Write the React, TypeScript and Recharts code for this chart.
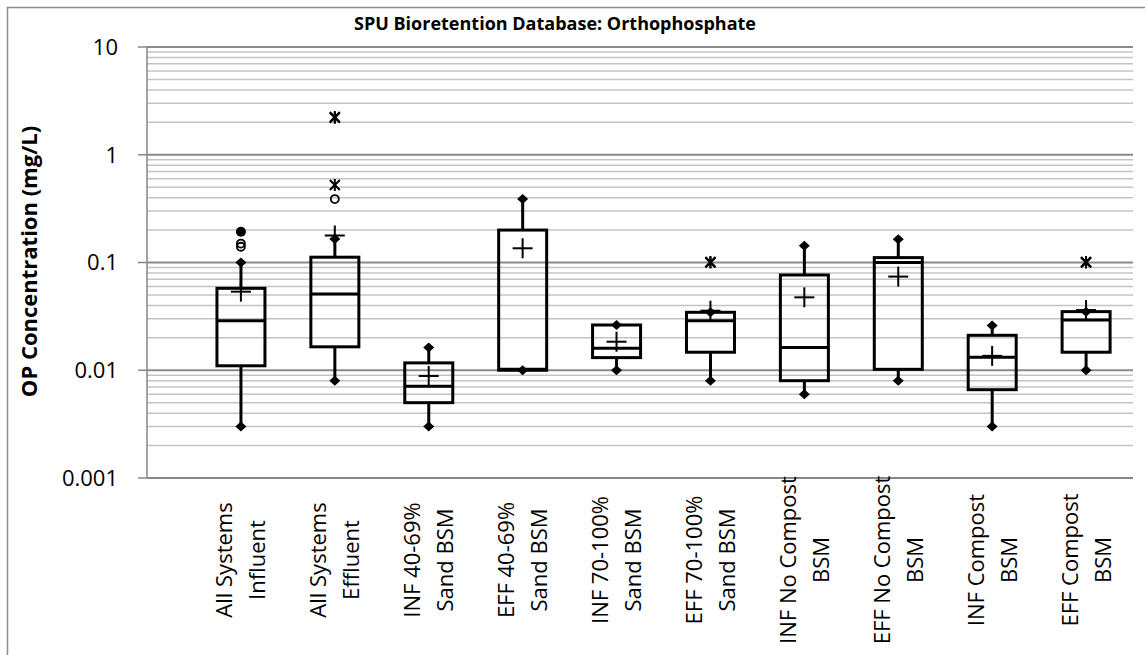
import React from "react";
import { Bar, CartesianGrid, ComposedChart, Scatter, XAxis, YAxis } from "recharts";

const categories = [
  "All Systems\nInfluent",
  "All Systems\nEffluent",
  "INF 40-69%\nSand BSM",
  "EFF 40-69%\nSand BSM",
  "INF 70-100%\nSand BSM",
  "EFF 70-100%\nSand BSM",
  "INF No Compost\nBSM",
  "EFF No Compost\nBSM",
  "INF Compost\nBSM",
  "EFF Compost\nBSM",
];

// mg/L
const minValues = [0.003, 0.008, 0.003, 0.01, 0.01, 0.008, 0.006, 0.008, 0.003, 0.01];
const q1Values = [0.011, 0.0165, 0.005, 0.01, 0.0131, 0.0147, 0.008, 0.0102, 0.0066, 0.0147];
const medianValues = [0.0288, 0.051, 0.0071, 0.0102, 0.016, 0.0288, 0.0163, 0.1, 0.0132, 0.0293];
const q3Values = [0.0576, 0.112, 0.0117, 0.2, 0.0263, 0.0345, 0.0766, 0.111, 0.0211, 0.035];
const maxValues = [0.1, 0.165, 0.0163, 0.388, 0.0263, 0.0345, 0.143, 0.164, 0.026, 0.035];
const meanValues = [0.0536, 0.178, 0.00885, 0.1355, 0.0184, 0.0357, 0.0475, 0.074, 0.0136, 0.0362];

// [category index, value]
const openCircleOutliers: [number, number][] = [[0, 0.15], [0, 0.14], [1, 0.388]];
const filledCircleOutliers: [number, number][] = [[0, 0.193]];
const starOutliers: [number, number][] = [[1, 0.524], [1, 2.2], [1, 2.24], [5, 0.1], [5, 0.101], [9, 0.1], [9, 0.101]];

const majorTicks = [0.001, 0.01, 0.1, 1, 10];
const minorTicks = [
  0.002, 0.003, 0.004, 0.005, 0.006, 0.007, 0.008, 0.009,
  0.02, 0.03, 0.04, 0.05, 0.06, 0.07, 0.08, 0.09,
  0.2, 0.3, 0.4, 0.5, 0.6, 0.7, 0.8, 0.9,
  2, 3, 4, 5, 6, 7, 8, 9,
];
const gridTicks = [...minorTicks, ...majorTicks];
const catTicks = categories.map((_, i) => i + 1);

const data = categories.map((name, i) => ({
  pos: i + 1,
  name,
  box: [q1Values[i], q3Values[i]],
  lowWhisker: [minValues[i], q1Values[i]],
  highWhisker: [q3Values[i], maxValues[i]],
  min: minValues[i],
  max: maxValues[i],
  median: medianValues[i],
  mean: meanValues[i],
}));

const toPoints = (list: [number, number][]) => list.map(([c, v]) => ({ pos: c + 1, value: v }));

const INK = "#000";
const AXIS = "#868686";
const BOX_W = 48;

const BoxShape = (p: any) => (
  <rect x={p.x} y={p.y} width={p.width} height={p.height} fill="none" stroke={INK} strokeWidth={3} />
);

const WhiskerShape = (p: any) => {
  const cx = p.x + p.width / 2;
  return <line x1={cx} x2={cx} y1={p.y} y2={p.y + p.height} stroke={INK} strokeWidth={3} />;
};

const MedianShape = ({ cx, cy }: any) => (
  <line x1={cx - BOX_W / 2} x2={cx + BOX_W / 2} y1={cy} y2={cy} stroke={INK} strokeWidth={3} />
);

const Diamond = ({ cx, cy }: any) => (
  <polygon points={`${cx},${cy - 5} ${cx + 5.5},${cy} ${cx},${cy + 5} ${cx - 5.5},${cy}`} fill={INK} />
);

const Plus = ({ cx, cy }: any) => (
  <g stroke={INK} strokeWidth={2}>
    <line x1={cx - 10} x2={cx + 10} y1={cy} y2={cy} />
    <line x1={cx} x2={cx} y1={cy - 10} y2={cy + 10} />
  </g>
);

const Star = ({ cx, cy }: any) => (
  <g stroke={INK} strokeWidth={2}>
    <line x1={cx - 5} x2={cx + 5} y1={cy - 5} y2={cy + 5} />
    <line x1={cx - 5} x2={cx + 5} y1={cy + 5} y2={cy - 5} />
    <line x1={cx} x2={cx} y1={cy - 6} y2={cy + 6} />
  </g>
);

const OpenCircle = ({ cx, cy }: any) => (
  <circle cx={cx} cy={cy} r={4} fill="none" stroke={INK} strokeWidth={1.8} />
);

const FilledCircle = ({ cx, cy }: any) => <circle cx={cx} cy={cy} r={5} fill={INK} />;

function CategoryTick({ x, payload }: any) {
  const lines = (categories[payload.value - 1] || "").split("\n");
  const lh = 33;
  return (
    <g transform={`translate(${x},560) rotate(-90)`}>
      <text textAnchor="middle" fontSize={22} fill={INK}>
        {lines.map((t, i) => (
          <tspan key={i} x={0} y={8 + (i - (lines.length - 1) / 2) * lh}>
            {t}
          </tspan>
        ))}
      </text>
    </g>
  );
}

// only decades get a label and an outside tick mark
function ValueTick({ x, y, payload }: any) {
  if (!majorTicks.includes(payload.value)) return <g />;
  return (
    <g>
      <line x1={x + 20} x2={x + 29} y1={y} y2={y} stroke={AXIS} strokeWidth={1.5} />
      <text x={x} y={y} dy="0.355em" textAnchor="end" fontSize={22} fill={INK}>
        {String(payload.value)}
      </text>
    </g>
  );
}

function GridLine(p: any) {
  const major = majorTicks.includes(gridTicks[p.index]);
  return (
    <line
      x1={p.x1}
      x2={p.x2}
      y1={p.y1}
      y2={p.y2}
      stroke={major ? "#8a8a8a" : "#c4c4c4"}
      strokeWidth={major ? 1.8 : 1.5}
    />
  );
}

export default function App() {
  return (
    <div
      style={{
        position: "absolute",
        left: 0,
        top: 0,
        width: 1145,
        height: 655,
        background: "#fff",
        fontFamily: "'Open Sans', sans-serif",
      }}
    >
      <ComposedChart width={1145} height={655} data={data} margin={{ top: 47, right: 12, bottom: 7, left: 47 }}>
        <XAxis
          xAxisId="main"
          dataKey="pos"
          type="number"
          domain={[0, 10.5]}
          ticks={catTicks}
          interval={0}
          height={170}
          stroke={AXIS}
          strokeWidth={1.5}
          tickLine={false}
          tick={<CategoryTick />}
        />
        <XAxis xAxisId="lo" dataKey="pos" type="number" domain={[0, 10.5]} orientation="top" height={0} hide />
        <XAxis xAxisId="hi" dataKey="pos" type="number" domain={[0, 10.5]} orientation="top" height={0} hide />
        <YAxis
          type="number"
          scale="log"
          domain={[0.001, 10]}
          ticks={gridTicks}
          interval={0}
          allowDataOverflow
          width={100}
          stroke={AXIS}
          strokeWidth={1.5}
          tickLine={false}
          tickSize={9}
          tickMargin={20}
          tick={<ValueTick />}
        />
        <CartesianGrid xAxisId="main" vertical={false} horizontal={GridLine} />

        <Bar xAxisId="main" dataKey="box" barSize={BOX_W} shape={BoxShape} isAnimationActive={false} />
        <Bar xAxisId="lo" dataKey="lowWhisker" barSize={BOX_W} shape={WhiskerShape} isAnimationActive={false} />
        <Bar xAxisId="hi" dataKey="highWhisker" barSize={BOX_W} shape={WhiskerShape} isAnimationActive={false} />

        <Scatter xAxisId="main" dataKey="median" shape={MedianShape} isAnimationActive={false} />
        <Scatter xAxisId="main" dataKey="min" shape={Diamond} isAnimationActive={false} />
        <Scatter xAxisId="main" dataKey="max" shape={Diamond} isAnimationActive={false} />
        <Scatter xAxisId="main" dataKey="mean" shape={Plus} isAnimationActive={false} />
        <Scatter xAxisId="main" data={toPoints(openCircleOutliers)} dataKey="value" shape={OpenCircle} isAnimationActive={false} />
        <Scatter xAxisId="main" data={toPoints(filledCircleOutliers)} dataKey="value" shape={FilledCircle} isAnimationActive={false} />
        <Scatter xAxisId="main" data={toPoints(starOutliers)} dataKey="value" shape={Star} isAnimationActive={false} />
      </ComposedChart>
      <svg
        width={1145}
        height={655}
        style={{ position: "absolute", left: 0, top: 0, pointerEvents: "none" }}
      >
        <path d="M7.5,660 V7.5 H1150" fill="none" stroke="#8c8c8c" strokeWidth={1.5} />
        <text x={555} y={30} textAnchor="middle" fontSize={18} fontWeight="bold" fill={INK}>
          SPU Bioretention Database: Orthophosphate
        </text>
        <text
          transform="translate(37,261.5) rotate(-90)"
          textAnchor="middle"
          fontSize={22}
          fontWeight="bold"
          fill={INK}
        >
          OP Concentration (mg/L)
        </text>
      </svg>
    </div>
  );
}
